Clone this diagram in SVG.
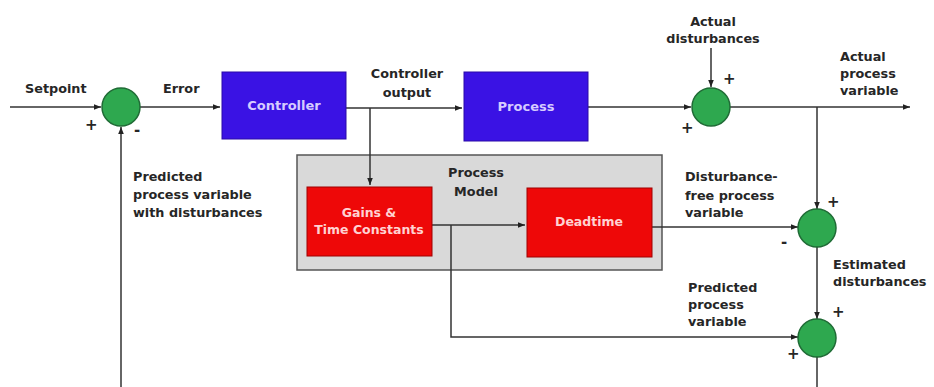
<svg xmlns="http://www.w3.org/2000/svg" width="934" height="387" viewBox="0 0 934 387">
<style>
text{font-family:"DejaVu Sans","Liberation Sans",sans-serif;font-weight:bold;font-size:12.8px;fill:#262626}
.c{text-anchor:middle}
.blue{fill:#3a12e4;stroke:#2a0aa8;stroke-width:1}
.red{fill:#ee0808;stroke:#a00000;stroke-width:1}
.sum{fill:#2ea84f;stroke:#1f6b35;stroke-width:1.5}
.bt{fill:#d6ccff;font-size:13px}
.rt{fill:#ffd2d2;font-size:12.5px}
.w{stroke:#333;stroke-width:1.5;fill:none}
.sg{font-size:15px}
</style>
<defs>
<marker id="ah" viewBox="0 0 10 10" refX="10" refY="5" markerWidth="7" markerHeight="7" markerUnits="userSpaceOnUse" orient="auto">
<path d="M0,1 L10,5 L0,9 z" fill="#222"/>
</marker>
</defs>
<rect width="934" height="387" fill="#fff"/>

<g id="process-model">
<rect x="297" y="155" width="365" height="115" fill="#d9d9d9" stroke="#555" stroke-width="1.5"/>
<text class="c" x="476" y="177">Process</text>
<text class="c" x="476" y="196">Model</text>
</g>

<g id="connectors">
<path class="w" d="M10,107 H101" marker-end="url(#ah)"/>
<path class="w" d="M140,107 H220" marker-end="url(#ah)"/>
<path class="w" d="M346,108 H462" marker-end="url(#ah)"/>
<path class="w" d="M370,108 V185" marker-end="url(#ah)"/>
<path class="w" d="M588,107 H691" marker-end="url(#ah)"/>
<path class="w" d="M711,48 V87" marker-end="url(#ah)"/>
<path class="w" d="M730,107 H910" marker-end="url(#ah)"/>
<path class="w" d="M817,107 V209" marker-end="url(#ah)"/>
<path class="w" d="M432,225 H525" marker-end="url(#ah)"/>
<path class="w" d="M652,227 H798" marker-end="url(#ah)"/>
<path class="w" d="M817,246 V319" marker-end="url(#ah)"/>
<path class="w" d="M451,225 V337 H798" marker-end="url(#ah)"/>
<path class="w" d="M817,356 V390"/>
<path class="w" d="M121,390 V127" marker-end="url(#ah)"/>
</g>

<g id="sum1">
<circle class="sum" cx="121" cy="107" r="19"/>
<text x="85" y="130" class="sg">+</text>
<text x="134" y="135" class="sg">-</text>
</g>

<g id="controller">
<rect class="blue" x="222" y="72" width="124" height="67"/>
<text class="c bt" x="284" y="110">Controller</text>
</g>

<g id="process">
<rect class="blue" x="464" y="72" width="124" height="69"/>
<text class="c bt" x="526" y="111">Process</text>
</g>

<g id="sum2">
<circle class="sum" cx="711" cy="107" r="19"/>
<text x="723" y="84" class="sg">+</text>
<text x="681" y="133" class="sg">+</text>
</g>

<g id="gains">
<rect class="red" x="307" y="187" width="125" height="69"/>
<text class="c rt" x="369" y="217">Gains &amp;</text>
<text class="c rt" x="369" y="234">Time Constants</text>
</g>

<g id="deadtime">
<rect class="red" x="527" y="188" width="125" height="69"/>
<text class="c rt" x="589" y="226">Deadtime</text>
</g>

<g id="sum3">
<circle class="sum" cx="817" cy="228" r="19"/>
<text x="827" y="207" class="sg">+</text>
<text x="781" y="247" class="sg">-</text>
</g>

<g id="sum4">
<circle class="sum" cx="817" cy="338" r="19"/>
<text x="832" y="317" class="sg">+</text>
<text x="787" y="359" class="sg">+</text>
</g>

<g id="labels">
<text x="25" y="93">Setpoint</text>
<text x="163" y="93">Error</text>
<text class="c" x="407" y="78">Controller</text>
<text class="c" x="407" y="97">output</text>
<text class="c" x="713" y="26">Actual</text>
<text class="c" x="713" y="43">disturbances</text>
<text x="840" y="61">Actual</text>
<text x="840" y="78">process</text>
<text x="840" y="95">variable</text>
<text x="133" y="181">Predicted</text>
<text x="133" y="199">process variable</text>
<text x="133" y="217">with disturbances</text>
<text x="685" y="181">Disturbance-</text>
<text x="685" y="200">free process</text>
<text x="685" y="217">variable</text>
<text x="833" y="269">Estimated</text>
<text x="833" y="286">disturbances</text>
<text x="688" y="292">Predicted</text>
<text x="688" y="309">process</text>
<text x="688" y="326">variable</text>
</g>
</svg>
